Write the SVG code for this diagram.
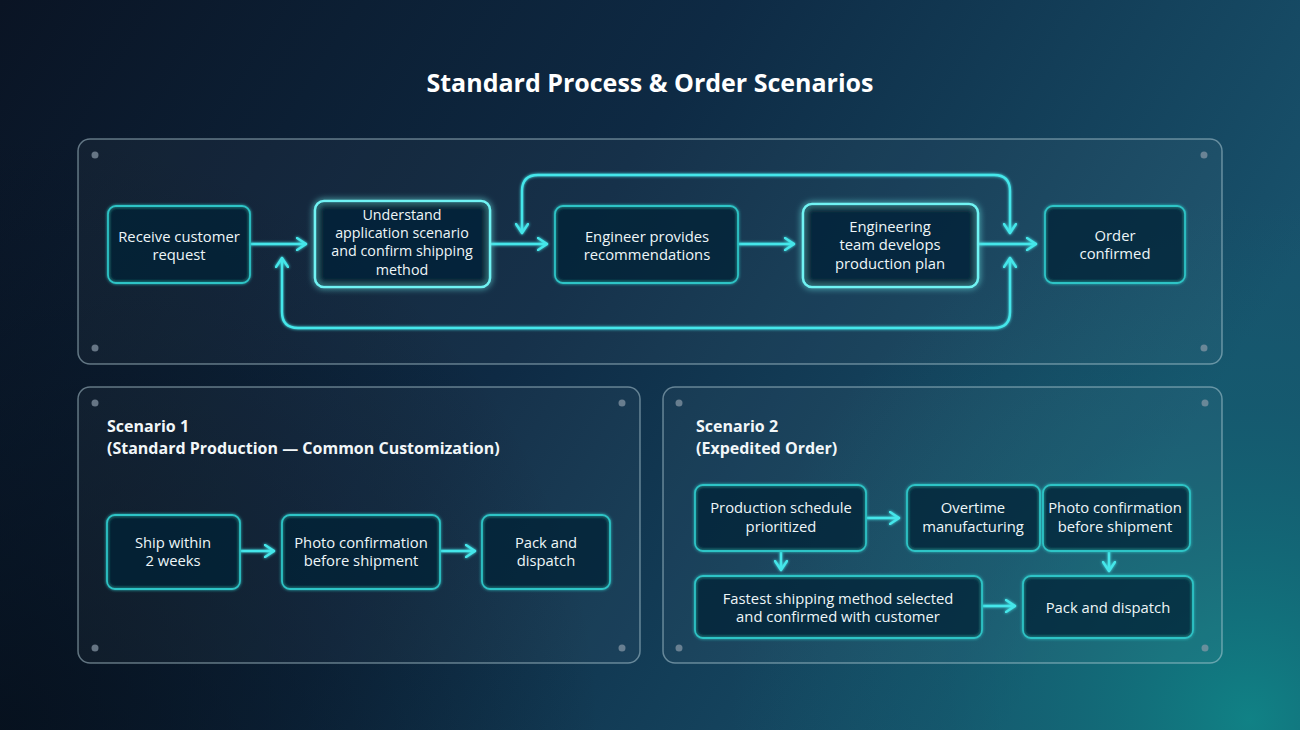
<svg xmlns="http://www.w3.org/2000/svg" width="1300" height="730" viewBox="0 0 1300 730">
<defs>
<linearGradient id="bg" x1="0" y1="0" x2="1" y2="0.35">
<stop offset="0" stop-color="#0a1424"/>
<stop offset="0.5" stop-color="#0e2a44"/>
<stop offset="1" stop-color="#18526c"/>
</linearGradient>
<radialGradient id="glowbr" cx="1250" cy="720" r="520" gradientUnits="userSpaceOnUse">
<stop offset="0" stop-color="#0f8a8a" stop-opacity="0.85"/>
<stop offset="0.6" stop-color="#0f6a75" stop-opacity="0.3"/>
<stop offset="1" stop-color="#0f6a75" stop-opacity="0"/>
</radialGradient>
<radialGradient id="darkbl" cx="0" cy="730" r="600" gradientUnits="userSpaceOnUse">
<stop offset="0" stop-color="#050d18" stop-opacity="0.8"/>
<stop offset="1" stop-color="#050d18" stop-opacity="0"/>
</radialGradient>
<filter id="glow" x="-20%" y="-30%" width="140%" height="160%">
<feGaussianBlur in="SourceGraphic" stdDeviation="3" result="b"/>
<feMerge><feMergeNode in="b"/><feMergeNode in="SourceGraphic"/></feMerge>
</filter>
<filter id="glowsoft" x="-20%" y="-30%" width="140%" height="160%">
<feGaussianBlur in="SourceGraphic" stdDeviation="1.8" result="b"/>
<feMerge><feMergeNode in="b"/><feMergeNode in="SourceGraphic"/></feMerge>
</filter>
<marker id="arr" viewBox="0 0 12 14" refX="10" refY="7" markerWidth="12" markerHeight="14" markerUnits="userSpaceOnUse" orient="auto-start-reverse">
<path d="M1,1 L10,7 L1,13" fill="none" stroke="#45e6ea" stroke-width="2.4" stroke-linecap="round" stroke-linejoin="round"/>
</marker>
</defs>
<style>
.panel{fill:#ffffff;fill-opacity:0.035;stroke:#b8d2dc;stroke-opacity:0.5;stroke-width:1.5}
.dot{fill:#8a9aa8;opacity:0.7}
.node{fill:#0b2336;fill-opacity:0.5;stroke:#2ec4c6;stroke-width:1.8}
.hot{fill:#0b2336;fill-opacity:0.55;stroke:#6ff3f3;stroke-width:2.6}
.t{font-family:"Open Sans","Liberation Sans",sans-serif;font-size:14.8px;fill:#eef6f8;text-anchor:middle}
.s{font-size:14.3px}
.h{font-family:"Open Sans","Liberation Sans",sans-serif;font-size:16px;font-weight:700;fill:#f2f7f9}
.title{font-family:"Open Sans","Liberation Sans",sans-serif;font-size:25px;font-weight:700;fill:#ffffff;text-anchor:middle}
.c{fill:none;stroke:#45e6ea;stroke-width:2.4;stroke-linecap:round}
</style>
<rect width="1300" height="730" fill="url(#bg)"/>
<rect width="1300" height="730" fill="url(#darkbl)"/>
<rect width="1300" height="730" fill="url(#glowbr)"/>

<text class="title" x="650" y="92">Standard Process &amp; Order Scenarios</text>

<g id="panel-standard">
<rect class="panel" x="78" y="139" width="1144" height="225" rx="12"/>
<circle class="dot" cx="95" cy="155" r="3.5"/><circle class="dot" cx="1204" cy="155" r="3.5"/>
<circle class="dot" cx="95" cy="348" r="3.5"/><circle class="dot" cx="1204" cy="348" r="3.5"/>
</g>
<g id="panel-scenario1">
<rect class="panel" x="78" y="387" width="562" height="276" rx="12"/>
<circle class="dot" cx="95" cy="403" r="3.5"/><circle class="dot" cx="622" cy="403" r="3.5"/>
<circle class="dot" cx="95" cy="648" r="3.5"/><circle class="dot" cx="622" cy="648" r="3.5"/>
<text class="h" x="107" y="432">Scenario 1</text>
<text class="h" x="107" y="454">(Standard Production — Common Customization)</text>
</g>
<g id="panel-scenario2">
<rect class="panel" x="663" y="387" width="559" height="276" rx="12"/>
<circle class="dot" cx="679" cy="403" r="3.5"/><circle class="dot" cx="1205" cy="403" r="3.5"/>
<circle class="dot" cx="679" cy="648" r="3.5"/><circle class="dot" cx="1205" cy="648" r="3.5"/>
<text class="h" x="696" y="432">Scenario 2</text>
<text class="h" x="696" y="454">(Expedited Order)</text>
</g>

<g id="connectors" filter="url(#glowsoft)">
<line class="c" x1="251" y1="244" x2="306" y2="244" marker-end="url(#arr)"/>
<line class="c" x1="491" y1="244" x2="547" y2="244" marker-end="url(#arr)"/>
<line class="c" x1="739" y1="244" x2="794" y2="244" marker-end="url(#arr)"/>
<line class="c" x1="979" y1="244" x2="1036" y2="244" marker-end="url(#arr)"/>
<path class="c" d="M522,233 V191 Q522,175 538,175 H994 Q1010,175 1010,191 V233" marker-start="url(#arr)" marker-end="url(#arr)"/>
<path class="c" d="M1010,258 V312 Q1010,328 994,328 H298 Q282,328 282,312 V258" marker-start="url(#arr)" marker-end="url(#arr)"/>
<line class="c" x1="241" y1="551" x2="274" y2="551" marker-end="url(#arr)"/>
<line class="c" x1="441" y1="551" x2="475" y2="551" marker-end="url(#arr)"/>
<line class="c" x1="867" y1="518" x2="899" y2="518" marker-end="url(#arr)"/>
<line class="c" x1="781" y1="552" x2="781" y2="570" marker-end="url(#arr)"/>
<line class="c" x1="1109" y1="552" x2="1109" y2="571" marker-end="url(#arr)"/>
<line class="c" x1="983" y1="606" x2="1015" y2="606" marker-end="url(#arr)"/>
</g>

<g id="n1"><rect class="node" x="108" y="206" width="142" height="77" rx="8" filter="url(#glowsoft)"/>
<text class="t" x="179" y="242">Receive customer</text><text class="t" x="179" y="260">request</text></g>
<g id="n2"><rect class="hot" x="315" y="201" width="175" height="86" rx="9" filter="url(#glow)"/>
<text class="t s" x="402" y="220">Understand</text><text class="t s" x="402" y="238">application scenario</text>
<text class="t s" x="402" y="256">and confirm shipping</text><text class="t s" x="402" y="275">method</text></g>
<g id="n3"><rect class="node" x="555" y="206" width="183" height="77" rx="8" filter="url(#glowsoft)"/>
<text class="t" x="647" y="242">Engineer provides</text><text class="t" x="647" y="260">recommendations</text></g>
<g id="n4"><rect class="hot" x="803" y="204" width="175" height="83" rx="9" filter="url(#glow)"/>
<text class="t" x="890" y="232">Engineering</text><text class="t" x="890" y="250">team develops</text><text class="t" x="890" y="269">production plan</text></g>
<g id="n5"><rect class="node" x="1045" y="206" width="140" height="77" rx="8" filter="url(#glowsoft)"/>
<text class="t" x="1115" y="241">Order</text><text class="t" x="1115" y="259">confirmed</text></g>

<g id="s1a"><rect class="node" x="107" y="515" width="133" height="74" rx="8" filter="url(#glowsoft)"/>
<text class="t" x="173" y="548">Ship within</text><text class="t" x="173" y="566">2 weeks</text></g>
<g id="s1b"><rect class="node" x="282" y="515" width="158" height="74" rx="8" filter="url(#glowsoft)"/>
<text class="t" x="361" y="548">Photo confirmation</text><text class="t" x="361" y="566">before shipment</text></g>
<g id="s1c"><rect class="node" x="482" y="515" width="128" height="74" rx="8" filter="url(#glowsoft)"/>
<text class="t" x="546" y="548">Pack and</text><text class="t" x="546" y="566">dispatch</text></g>

<g id="s2a"><rect class="node" x="695" y="485" width="171" height="66" rx="8" filter="url(#glowsoft)"/>
<text class="t" x="781" y="513">Production schedule</text><text class="t" x="781" y="532">prioritized</text></g>
<g id="s2b"><rect class="node" x="907" y="485" width="133" height="66" rx="8" filter="url(#glowsoft)"/>
<text class="t" x="973" y="513">Overtime</text><text class="t" x="973" y="532">manufacturing</text></g>
<g id="s2c"><rect class="node" x="1043" y="485" width="147" height="66" rx="8" filter="url(#glowsoft)"/>
<text class="t" x="1115" y="513">Photo confirmation</text><text class="t" x="1115" y="532">before shipment</text></g>
<g id="s2d"><rect class="node" x="695" y="576" width="287" height="62" rx="8" filter="url(#glowsoft)"/>
<text class="t" x="838" y="604">Fastest shipping method selected</text><text class="t" x="838" y="622">and confirmed with customer</text></g>
<g id="s2e"><rect class="node" x="1023" y="576" width="170" height="62" rx="8" filter="url(#glowsoft)"/>
<text class="t" x="1108" y="613">Pack and dispatch</text></g>
</svg>
